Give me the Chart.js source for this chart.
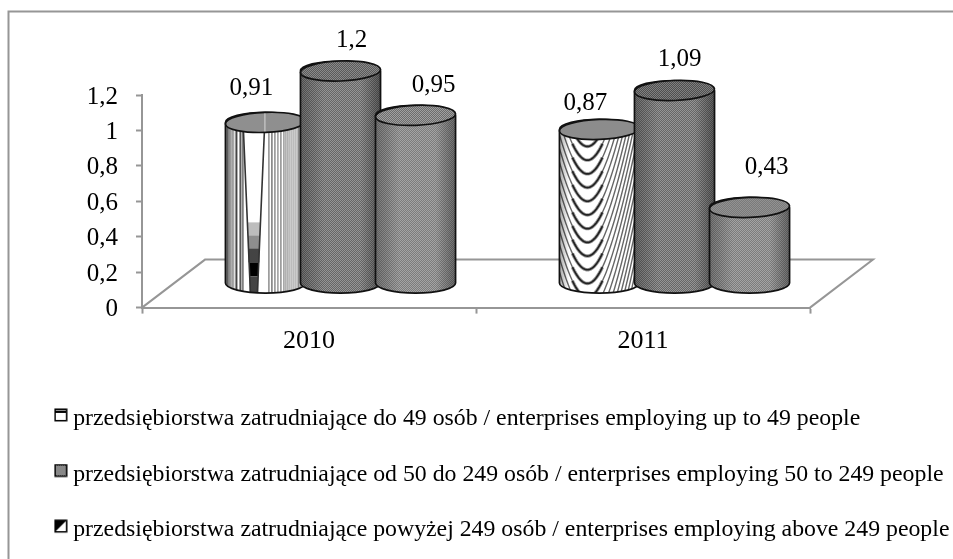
<!DOCTYPE html>
<html>
<head>
<meta charset="utf-8">
<style>
  html, body { margin: 0; padding: 0; background: #fff; }
  #wrap { width: 953px; height: 559px; }
</style>
<script src="https://cdn.jsdelivr.net/npm/chart.js@4"></script>
</head>
<body>
<div id="wrap"><canvas id="chart" width="953" height="559"></canvas></div>
<script>
// data
const years = ['2010', '2011'];
const small = [0.91, 0.87];
const medium = [1.2, 1.09];
const large = [0.95, 0.43];
const yTicks = [0, 0.2, 0.4, 0.6, 0.8, 1, 1.2];
const seriesNames = [
  'przedsiębiorstwa zatrudniające do 49 osób / enterprises employing up to 49 people',
  'przedsiębiorstwa zatrudniające od 50 do 249 osób / enterprises employing 50 to 249 people',
  'przedsiębiorstwa zatrudniające powyżej 249 osób / enterprises employing above 249 people'
];

const FONT = '"Liberation Serif", "Times New Roman", serif';
const AXIS = '#969696';
const DEPTH_X = 31.5;
const DEPTH_Y = 24;
const RY = 10;

// hand placed value labels, offset from the top of each cylinder
const labelNudge = [
  [[-14, -34], [-14, -26]],
  [[11, -31], [5, -31]],
  [[18, -30], [17, -40]]
];

function comma(v) { return String(v).replace('.', ','); }

function dither(a, b) {
  const c = document.createElement('canvas');
  c.width = 2; c.height = 2;
  const g = c.getContext('2d');
  g.fillStyle = a; g.fillRect(0, 0, 2, 2);
  g.fillStyle = b; g.fillRect(0, 0, 1, 1); g.fillRect(1, 1, 1, 1);
  return g.createPattern(c, 'repeat');
}

function shade(ctx, l, w, top, bottom, stops) {
  const g = ctx.createLinearGradient(l, 0, l + w, 0);
  stops.forEach(s => g.addColorStop(s[0], s[1]));
  ctx.fillStyle = g;
  ctx.fillRect(l, top - RY, w, bottom - top + 2 * RY + 2);
}

// 2010 small firms: vertical stripes and the narrow stepped wedge
function paintWedge(ctx, l, w, top, bottom) {
  ctx.fillStyle = '#fff';
  ctx.fillRect(l, top - RY, w, bottom - top + 2 * RY);
  ctx.fillStyle = '#c4c4c4';
  ctx.fillRect(l, top - RY, 9, bottom - top + 2 * RY);
  [[1, 2, '#777'], [4, 1, '#999'], [7, 1, '#999'], [10, 2, '#444'], [14, 2, '#555'], [17, 1, '#222'],
   [43, 1, '#555'], [46, 1, '#333'], [49, 1, '#555'], [52, 1, '#666'], [55, 1, '#555'], [58, 1, '#666'],
   [60, 1, '#777'], [62, 1, '#777'], [64, 1, '#888'], [66, 1, '#888'], [68, 1, '#888'], [70, 1, '#888'], [72, 2, '#888'], [74, 2, '#999']
  ].forEach(s => {
    ctx.fillStyle = s[2];
    ctx.fillRect(l + s[0], top - RY, s[1], bottom - top + 2 * RY);
  });
  const yA = top + 8, yB = bottom + RY;
  const edge = y => (y - yA) / (yB - yA);
  const lx = y => l + 18 + 7 * edge(y);
  const rx = y => l + 39 - 7 * edge(y);
  const steps = [[top + 100, '#bdbdbd'], [top + 113, '#8e8e8e'], [top + 126, '#444'], [top + 140, '#000'], [top + 154, '#444']];
  ctx.fillStyle = '#fff';
  ctx.beginPath();
  ctx.moveTo(lx(yA), yA); ctx.lineTo(rx(yA), yA); ctx.lineTo(rx(yB), yB); ctx.lineTo(lx(yB), yB);
  ctx.closePath(); ctx.fill();
  steps.forEach((s, i) => {
    const end = i < steps.length - 1 ? steps[i + 1][0] : yB;
    ctx.fillStyle = s[1];
    ctx.fillRect(lx(s[0]), s[0], rx(s[0]) - lx(s[0]), end - s[0]);
  });
  ctx.strokeStyle = '#333'; ctx.lineWidth = 1.6;
  ctx.beginPath();
  ctx.moveTo(lx(yA), yA); ctx.lineTo(lx(yB), yB);
  ctx.moveTo(rx(yA), yA); ctx.lineTo(rx(yB), yB);
  ctx.stroke();
  shade(ctx, l, w, top, bottom, [[0, 'rgba(0,0,0,0.3)'], [0.12, 'rgba(0,0,0,0)'], [1, 'rgba(0,0,0,0)']]);
}

// 2011 small firms: nested curves, their steep sides make the hatching
function paintArches(ctx, l, w, top, bottom) {
  const cx = l + 28, s = 6, r = 40;
  const curve = (yb, from, to) => {
    ctx.beginPath();
    for (let t = from; t <= to; t += 1) {
      const y = yb - s * (Math.sqrt(t * t + r * r) - r);
      if (t === from) ctx.moveTo(cx + t, y); else ctx.lineTo(cx + t, y);
    }
    ctx.stroke();
  };
  ctx.fillStyle = '#fff';
  ctx.fillRect(l, top - RY, w, bottom - top + 2 * RY);
  for (let yb = top + 17 - 13.7; yb < bottom + 260; yb += 13.7) {
    ctx.strokeStyle = '#666'; ctx.lineWidth = 1.4;
    curve(yb, -w, w);
    ctx.strokeStyle = '#999'; ctx.lineWidth = 3.4;
    curve(yb, -15, 15);
    ctx.strokeStyle = '#222'; ctx.lineWidth = 1.7;
    curve(yb, -15, 15);
  }
  shade(ctx, l, w, top, bottom, [[0, 'rgba(0,0,0,0.35)'], [0.12, 'rgba(0,0,0,0)'], [1, 'rgba(0,0,0,0)']]);
}

function paintDark(ctx, l, w, top, bottom) {
  ctx.fillStyle = dither('#666', '#959595');
  ctx.fillRect(l, top - RY, w, bottom - top + 2 * RY + 2);
  shade(ctx, l, w, top, bottom, [[0, 'rgba(0,0,0,0.28)'], [0.3, 'rgba(0,0,0,0)'], [0.75, 'rgba(0,0,0,0)'], [1, 'rgba(0,0,0,0.38)']]);
}

function paintMid(ctx, l, w, top, bottom) {
  ctx.fillStyle = dither('#7c7c7c', '#a4a4a4');
  ctx.fillRect(l, top - RY, w, bottom - top + 2 * RY + 2);
  shade(ctx, l, w, top, bottom, [[0, 'rgba(0,0,0,0.28)'], [0.3, 'rgba(0,0,0,0)'], [0.75, 'rgba(0,0,0,0)'], [1, 'rgba(0,0,0,0.35)']]);
}

const bodyPainters = [[paintWedge, paintArches], [paintDark, paintDark], [paintMid, paintMid]];
const capFills = [['#8f8f8f', '#8c8c8c'], [['#5a5a5a', '#8a8a8a'], ['#4f4f4f', '#808080']], [['#6c6c6c', '#a0a0a0'], ['#7a7a7a', '#929292']]];

function drawCylinder(ctx, bar, ds, i) {
  const x = bar.x + DEPTH_X, w = bar.width, l = x - w / 2;
  const top = bar.y - DEPTH_Y, bottom = bar.base - DEPTH_Y;
  ctx.save();
  const body = new Path2D();
  body.moveTo(l, top);
  body.lineTo(l, bottom);
  body.ellipse(x, bottom, w / 2, RY, 0, Math.PI, 0, true);
  body.lineTo(l + w, top);
  body.ellipse(x, top, w / 2, RY, 0, 0, Math.PI, true);
  body.closePath();
  ctx.save();
  ctx.clip(body);
  bodyPainters[ds][i](ctx, l, w, top, bottom);
  ctx.restore();
  ctx.strokeStyle = '#111'; ctx.lineWidth = 1.7;
  ctx.stroke(body);
  // top cap, slightly tilted like the original
  const cap = capFills[ds][i];
  ctx.beginPath();
  ctx.ellipse(x, top, w / 2, RY, -0.04, 0, Math.PI * 2);
  ctx.fillStyle = Array.isArray(cap) ? dither(cap[0], cap[1]) : cap;
  ctx.fill();
  ctx.stroke();
  if (ds === 0 && i === 0) {
    ctx.strokeStyle = '#d8d8d8'; ctx.lineWidth = 1;
    ctx.beginPath();
    ctx.moveTo(l + 39.5, top - RY + 1);
    ctx.lineTo(l + 39.5, top + RY - 1);
    ctx.stroke();
  }
  ctx.restore();
}

const frameAndFloor = {
  id: 'frameAndFloor',
  beforeDraw(chart) {
    const ctx = chart.ctx;
    ctx.save();
    ctx.strokeStyle = AXIS; ctx.lineWidth = 2;
    ctx.strokeRect(8.5, 11.5, 960, 560);
    ctx.restore();
  },
  beforeDatasetsDraw(chart) {
    const ctx = chart.ctx, a = chart.chartArea;
    ctx.save();
    ctx.strokeStyle = AXIS; ctx.lineWidth = 2;
    ctx.beginPath();
    ctx.moveTo(a.left, a.bottom);
    ctx.lineTo(a.left + 63, a.bottom - 48);
    ctx.lineTo(a.right + 63, a.bottom - 48);
    ctx.lineTo(a.right, a.bottom);
    ctx.stroke();
    ctx.restore();
  }
};

const cylinders = {
  id: 'cylinders',
  afterDatasetsDraw(chart) {
    const ctx = chart.ctx;
    chart.data.datasets.forEach((d, ds) => {
      chart.getDatasetMeta(ds).data.forEach((bar, i) => {
        drawCylinder(ctx, bar, ds, i);
      });
    });
    ctx.save();
    ctx.fillStyle = '#000';
    ctx.font = '25px ' + FONT;
    ctx.textAlign = 'center';
    ctx.textBaseline = 'middle';
    chart.data.datasets.forEach((d, ds) => {
      chart.getDatasetMeta(ds).data.forEach((bar, i) => {
        const n = labelNudge[ds][i];
        ctx.fillText(comma(d.data[i]), bar.x + DEPTH_X + n[0], bar.y - DEPTH_Y + n[1]);
      });
    });
    ctx.restore();
  }
};

// taller than the box so the legend centres it a little above the text middle
function legendIcon(kind) {
  const c = document.createElement('canvas');
  c.width = 14; c.height = 22;
  const g = c.getContext('2d');
  g.fillStyle = '#000';
  g.fillRect(0.5, 0.5, 13, 13);
  g.fillStyle = '#fff';
  if (kind === 0) {
    g.fillRect(2, 5, 10, 7);
    g.fillStyle = '#999';
    g.fillRect(2, 2, 10, 1);
  } else if (kind === 1) {
    g.fillStyle = dither('#555', '#bbb');
    g.fillRect(2, 2, 10, 10);
  } else {
    g.fillRect(2, 2, 10, 10);
    g.fillStyle = '#000';
    g.beginPath();
    g.moveTo(2, 2); g.lineTo(12, 2); g.lineTo(2, 12);
    g.closePath(); g.fill();
  }
  return c;
}

new Chart(document.getElementById('chart'), {
  type: 'bar',
  data: {
    labels: years,
    datasets: [small, medium, large].map((vals, i) => ({
      label: seriesNames[i],
      data: vals,
      backgroundColor: 'rgba(0,0,0,0)',
      borderWidth: 0,
      barPercentage: 1.067,
      categoryPercentage: 0.674
    }))
  },
  options: {
    responsive: false,
    animation: false,
    layout: { padding: { left: 28.5, right: 0, top: 95, bottom: 7 } },
    plugins: {
      tooltip: { enabled: false },
      legend: {
        position: 'bottom',
        align: 'start',
        onClick: null,
        labels: {
          padding: 31.8,
          color: '#000',
          font: { family: FONT, size: 23.8 },
          usePointStyle: true,
          pointStyleWidth: 1,
          generateLabels: chart => chart.data.datasets.map((d, i) => ({
            text: d.label,
            datasetIndex: i,
            pointStyle: legendIcon(i),
            fontColor: '#000',
            lineWidth: 0,
            hidden: false
          }))
        }
      }
    },
    scales: {
      x: {
        afterFit(s) { s.height = 67.6; },
        border: { color: AXIS, width: 2 },
        grid: { offset: true, drawOnChartArea: false, drawTicks: true, tickLength: 6, tickColor: AXIS, tickWidth: 2 },
        ticks: { color: '#000', padding: 12, font: { family: FONT, size: 26 } }
      },
      y: {
        min: 0,
        max: 1.2,
        afterFit(s) { s.width = 113.5; },
        afterBuildTicks(s) { s.ticks = yTicks.map(v => ({ value: v })); },
        border: { color: AXIS, width: 2 },
        grid: { drawOnChartArea: false, drawTicks: true, tickLength: 6, tickColor: AXIS, tickWidth: 2 },
        ticks: { color: '#000', padding: 18, labelOffset: 2, font: { family: FONT, size: 25 }, callback: v => comma(v) }
      },
      // empty axis, only keeps the plot clear of the right side so the legend can run full width
      spacer: {
        type: 'linear',
        position: 'right',
        afterFit(s) { s.width = 143; },
        border: { display: false },
        grid: { display: false },
        ticks: { display: false }
      }
    }
  },
  plugins: [frameAndFloor, cylinders]
});
</script>
</body>
</html>
